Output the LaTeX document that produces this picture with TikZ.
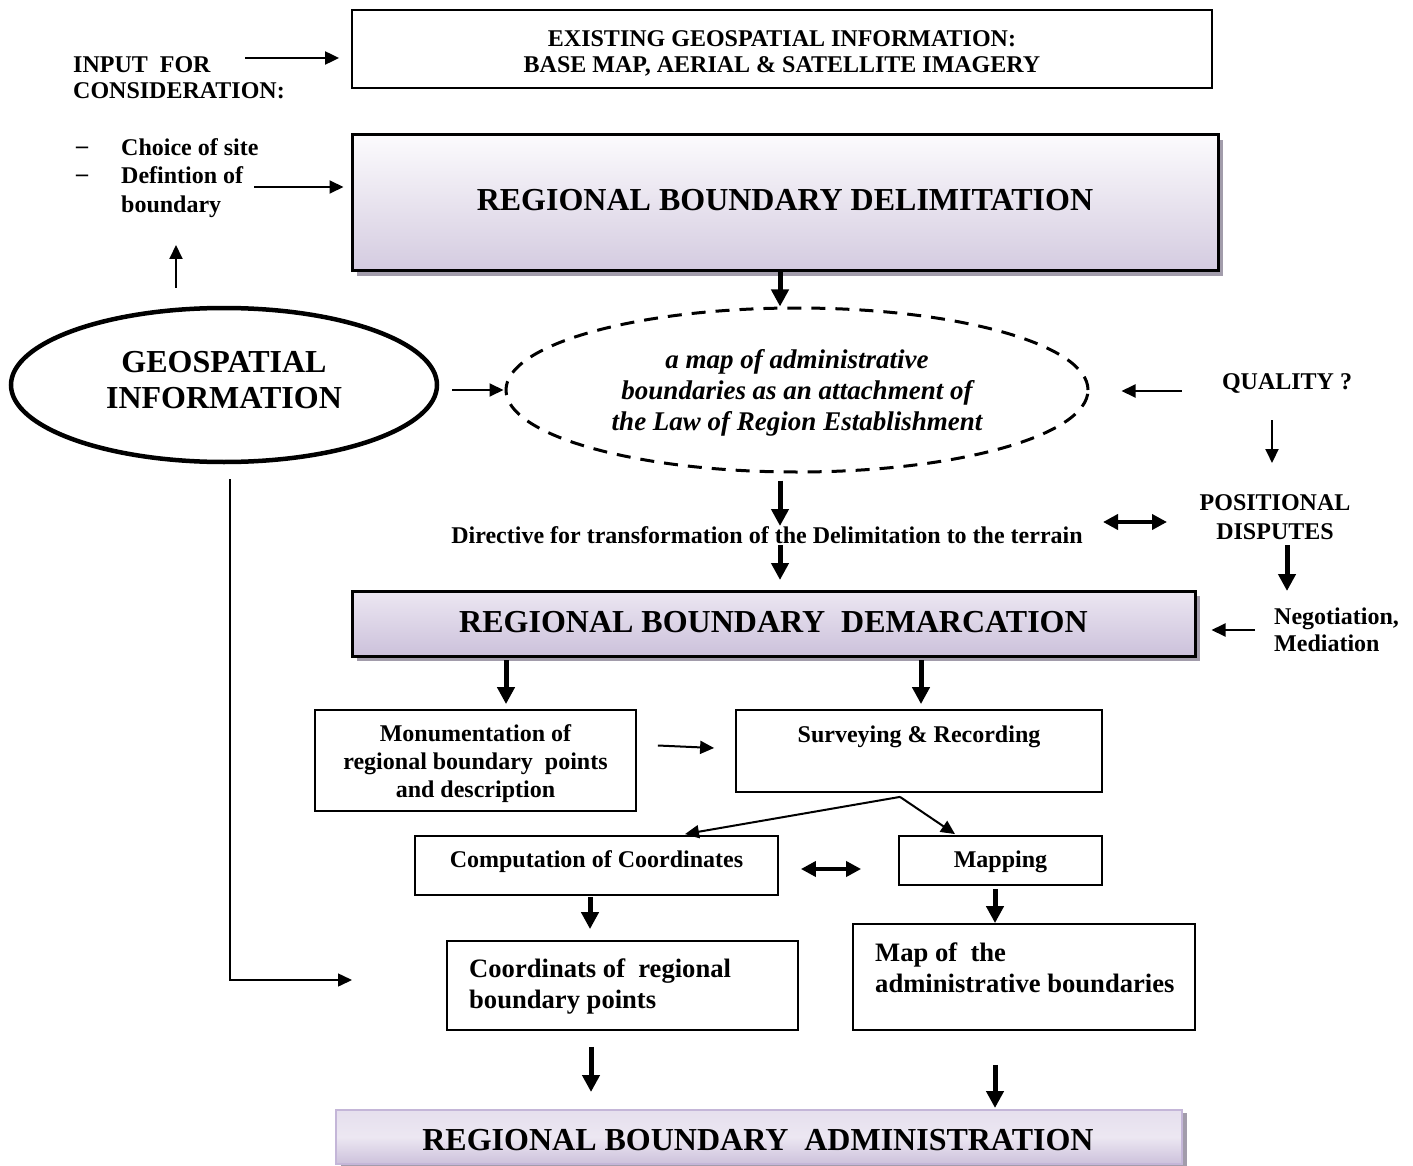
\documentclass[tikz,border=0pt]{standalone}
\usepackage{fontspec}
\setmainfont{Liberation Serif}
\usetikzlibrary{arrows.meta,shapes.geometric,shadows}
\definecolor{lavTop}{HTML}{FCFBFD}
\definecolor{lavBot}{HTML}{D4CBE0}
\definecolor{demTop}{HTML}{ECE7F2}
\definecolor{demBot}{HTML}{CCC1DB}
\definecolor{admBord}{HTML}{C4B6D8}
\definecolor{admMid}{HTML}{ECE7F2}
\definecolor{shadowc}{HTML}{A29CAB}
\newcommand\fsA[1]{\fontsize{24}{#1}\selectfont\bfseries}
\newcommand\fsB[1]{\fontsize{26.6}{#1}\selectfont\bfseries}
\newcommand\fsC[1]{\fontsize{32}{#1}\selectfont\bfseries}
\tikzset{
  plainbox/.style={draw, line width=1.8pt, rectangle, inner sep=0pt, align=center},
  bigbox/.style={draw, line width=3pt, rectangle, inner sep=0pt, align=center,
     drop shadow={shadow xshift=5pt, shadow yshift=-5pt, fill=shadowc, opacity=1}},
  txt/.style={inner sep=0pt, align=center},
  thinarr/.style={-{Triangle[length=14pt,width=13pt]}, line width=2pt},
  thickarr/.style={-{Triangle[length=17pt,width=17pt]}, line width=5pt},
  dblarr/.style={{Triangle[length=15pt,width=15pt]}-{Triangle[length=15pt,width=15pt]}, line width=4pt},
}
\begin{document}
\begin{tikzpicture}[x=1pt,y=-1pt]
\useasboundingbox[fill=white] (0,0) rectangle (1413,1166);

% top box
\node[plainbox, minimum width=860pt, minimum height=78pt] (top) at (782,49) {};
\node[txt, font=\fsA{26}] (topt) at (782,53)
  {EXISTING GEOSPATIAL INFORMATION:\\BASE MAP, AERIAL \& SATELLITE IMAGERY};

% input for consideration
\node[txt, align=left, anchor=west, font=\fsA{26}] (input) at (73,78) {INPUT~~FOR\\CONSIDERATION:};
\node[txt, font=\fsA{28}] (d1) at (82,150) {–};
\node[txt, font=\fsA{28}] (d2) at (82,178) {–};
\node[txt, align=left, anchor=west, font=\fsA{28.5}] (list) at (121,178) {Choice of site\\Defintion of\\boundary};

% delimitation
\node[bigbox, top color=lavTop, bottom color=lavBot, minimum width=866pt, minimum height=136pt] (delim) at (785,203) {};
\node[txt, font=\fsC{38}] (delimt) at (785,200) {REGIONAL BOUNDARY DELIMITATION};

% geospatial information ellipse
\node[ellipse, draw, line width=4.5pt, minimum width=426pt, minimum height=154pt, inner sep=0pt] (geo) at (224,385) {};
\node[txt, font=\fsC{36}] (geot) at (224,380) {GEOSPATIAL\\INFORMATION};

% dashed ellipse
\node[ellipse, draw, dash pattern=on 14pt off 10pt, line width=3pt, minimum width=582pt, minimum height=164pt, inner sep=0pt] (mapn) at (797,390) {};
\node[txt, font=\fontsize{27}{31}\selectfont\bfseries\itshape] (mapnt) at (797,393)
  {a map of administrative\\boundaries as an attachment of\\the Law of Region Establishment};

% right column
\node[txt, font=\fsA{28}] (qual) at (1287,383) {QUALITY ?};
\node[txt, font=\fsA{29}] (pos) at (1275,517) {POSITIONAL\\DISPUTES};
\node[txt, align=left, anchor=west, font=\fsA{27}] (neg) at (1274,630) {Negotiation,\\Mediation};

% directive
\node[txt, font=\fsA{28}] (dir) at (767,535) {Directive for transformation of the Delimitation to the terrain};

% demarcation
\node[bigbox, top color=demTop, bottom color=demBot, minimum width=843pt, minimum height=65pt] (demarc) at (773.5,623.5) {};
\node[txt, font=\fsC{38}] (demarct) at (773.5,622) {REGIONAL BOUNDARY~~DEMARCATION};

% monumentation and surveying
\node[plainbox, minimum width=321pt, minimum height=101pt] (monu) at (475.5,760.5) {};
\node[txt, font=\fsA{28}] (monut) at (475.5,764)
  {Monumentation of\\regional boundary~~points\\and description};
\node[plainbox, minimum width=366pt, minimum height=82pt] (surv) at (919,751) {};
\node[txt, font=\fsA{28}] (survt) at (919,737) {Surveying \& Recording};

% computation and mapping
\node[plainbox, minimum width=363pt, minimum height=59pt] (comp) at (596.5,865.5) {};
\node[txt, font=\fsA{28}] (compt) at (596.5,862) {Computation of Coordinates};
\node[plainbox, minimum width=203pt, minimum height=49pt] (mapping) at (1000.5,860.5) {};
\node[txt, font=\fsA{28}] (mappingt) at (1000.5,862) {Mapping};

% coordinates and map
\node[plainbox, minimum width=351pt, minimum height=89pt] (coord) at (622.5,985.5) {};
\node[txt, align=left, anchor=west, font=\fsB{31}] (coordt) at (469,986) {Coordinats of~~regional\\boundary points};
\node[plainbox, minimum width=342pt, minimum height=106pt] (mapb) at (1024,977) {};
\node[txt, align=left, anchor=west, font=\fsB{31}] (mapbt) at (875,968) {Map of~~the\\administrative boundaries};

% administration
\node[draw=admBord, line width=2pt, rectangle, inner sep=0pt, shading=axis, top color=demTop!80!demBot, bottom color=demBot, middle color=admMid,
  minimum width=846pt, minimum height=54pt,
  drop shadow={shadow xshift=5pt, shadow yshift=-3pt, fill=shadowc, opacity=1}] (admin) at (759,1137) {};
\node[txt, font=\fsC{38}] (admint) at (758,1140) {REGIONAL BOUNDARY~~ADMINISTRATION};

% coordinates for free ends
\coordinate (inS) at (245,58);
\coordinate (liS) at (254,187);
\coordinate (upS) at (176,288);
\coordinate (upE) at (176,245);
\coordinate (split) at ([shift={(-19,4)}]surv.south);
\coordinate (geoBend) at (230,980);
\coordinate (geoEnd) at (352,980);

% connectors
\draw[thinarr, shorten >=12pt] (inS) -- (inS -| top.west);
\draw[thinarr, shorten >=7pt] (liS) -- (liS -| delim.west);
\draw[thinarr] (upS) -- (upE);
\draw[thickarr] ([xshift=-5pt]delim.south) -- ([xshift=-5pt]delim.south |- mapn.north);
\draw[thinarr] ([shift={(13,5)}]geo.east) -- ([xshift=-1pt]mapn.west);
\draw[thinarr] ([shift={(92,1)}]mapn.east) -- ([shift={(32,1)}]mapn.east);
\draw[thinarr] ([shift={(-15,37)}]qual.center) -- ([shift={(-3,-54)}]pos.center);
\draw[thickarr] ([shift={(-17,7)}]mapn.south) -- ([shift={(13,-9)}]dir.center);
\draw[thickarr] ([shift={(13,10)}]dir.center) -- ([shift={(6.5,-9.5)}]demarc.north);
\draw[dblarr] ([shift={(336,-13)}]dir.center) -- ([shift={(-108,5)}]pos.center);
\draw[thickarr] ([shift={(12,28)}]pos.center) -- ([shift={(13,-39)}]neg.west);
\draw[thinarr] ([xshift=-19pt]neg.west) -- ([xshift=15pt]neg.west -| demarc.east);
\draw[thickarr] ([shift={(-267.5,2.5)}]demarc.south) -- ([shift={(30.5,-5)}]monu.north);
\draw[thickarr] ([shift={(147.5,2.5)}]demarc.south) -- ([shift={(2,-5)}]surv.north);
\draw[thinarr] ([shift={(21,-15)}]monu.east) -- ([shift={(-21,-3)}]surv.west);
\draw[thinarr] (split) -- ([shift={(88.5,-1)}]comp.north);
\draw[thinarr] (split) -- ([shift={(-45.5,-1)}]mapping.north);
\draw[dblarr] ([shift={(22,3.5)}]comp.east) -- ([shift={(-37,8.5)}]mapping.west);
\draw[thickarr] ([shift={(-6.5,1)}]comp.south) -- ([shift={(-32.5,-11)}]coord.north);
\draw[thickarr] ([shift={(-5.5,3)}]mapping.south) -- ([shift={(-29,0)}]mapb.north);
\draw[thinarr, line width=1.5pt] ([shift={(6,15)}]geo.south) -- (geoBend) -- (geoEnd);
\draw[thickarr] ([shift={(-31.5,16)}]coord.south) -- ([shift={(-168,-17)}]admin.north);
\draw[thickarr] ([shift={(-29,34)}]mapb.south) -- ([shift={(236,-1)}]admin.north);
\end{tikzpicture}
\end{document}
